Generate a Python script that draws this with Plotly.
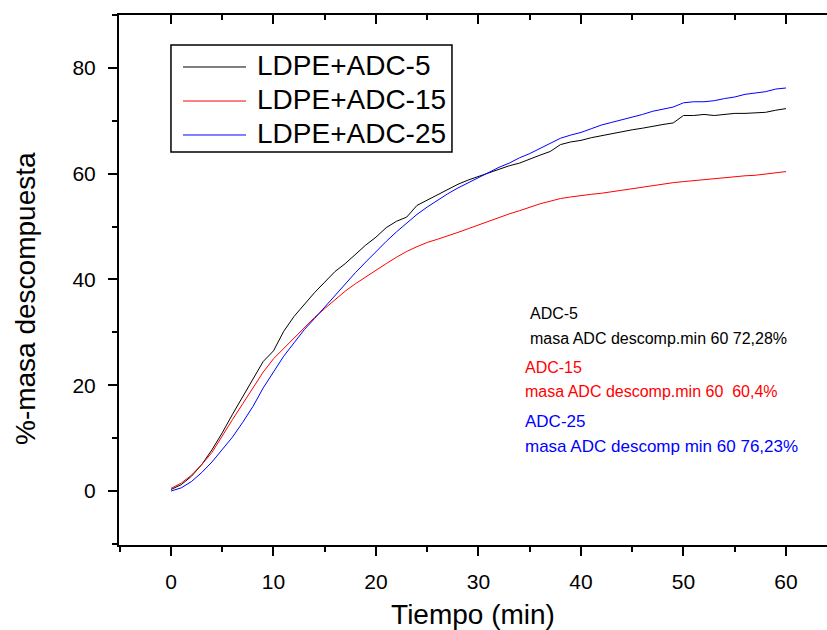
import plotly.graph_objects as go

time_min = list(range(0, 61))

adc5 = [0.3, 1.2, 2.8, 5.0, 7.8, 11.0, 14.5, 17.8, 21.0, 24.5,
        26.5, 30.2, 33.0, 35.3, 37.5, 39.5, 41.5, 43.0, 44.8, 46.5,
        48.0, 49.8, 51.0, 51.8, 54.0, 55.0, 56.0, 57.0, 58.0, 58.8,
        59.5, 60.2, 60.8, 61.5, 62.0, 62.8, 63.5, 64.2, 65.5, 66.0,
        66.3, 66.8, 67.2, 67.6, 68.0, 68.3, 68.6, 69.0, 69.3, 69.6,
        71.0, 71.0, 71.2, 71.0, 71.2, 71.4, 71.4, 71.5, 71.6, 72.0,
        72.3]

adc15 = [0.5, 1.5, 3.0, 5.0, 7.3, 10.5, 13.5, 16.5, 19.5, 22.5,
         25.0, 27.0, 29.0, 30.8, 32.8, 34.5, 36.2, 37.8, 39.2, 40.5,
         41.8, 43.0, 44.2, 45.3, 46.2, 47.0, 47.6, 48.2, 48.9, 49.6,
         50.3, 51.0, 51.8, 52.4, 53.0, 53.7, 54.3, 54.8, 55.3, 55.6,
         55.9, 56.1, 56.3, 56.6, 56.9, 57.2, 57.5, 57.8, 58.0, 58.3,
         58.5, 58.7, 58.9, 59.0, 59.2, 59.4, 59.6, 59.7, 59.9, 60.1,
         60.4]

adc25 = [0.0, 0.6, 1.8, 3.5, 5.5, 7.8, 10.2, 13.0, 16.0, 19.5,
         22.5, 25.5, 28.0, 30.5, 32.6, 34.8, 37.0, 39.2, 41.3, 43.3,
         45.3, 47.2, 49.0, 50.7, 52.3, 53.7, 55.0, 56.2, 57.3, 58.3,
         59.2, 60.2, 61.2, 62.0, 63.0, 63.8, 64.8, 65.8, 66.7, 67.3,
         67.8, 68.5, 69.2, 69.7, 70.2, 70.6, 71.2, 71.8, 72.2, 72.6,
         73.4, 73.6, 73.6, 73.8, 74.2, 74.5, 75.0, 75.2, 75.5, 76.0,
         76.2]

series_names = ["LDPE+ADC-5", "LDPE+ADC-15", "LDPE+ADC-25"]
series_colors = ["#000000", "#ff0000", "#0000ff"]

x_ticks = [0, 10, 20, 30, 40, 50, 60]
y_ticks = [0, 20, 40, 60, 80]

notes = [
    ("ADC-5", 34.8, 33.5, "#000000", 16),
    ("masa ADC descomp.min 60 72,28%", 34.8, 28.8, "#000000", 16),
    ("ADC-15", 34.3, 23.4, "#ff0000", 16),
    ("masa ADC descomp.min 60  60,4%", 34.3, 18.8, "#ff0000", 16),
    ("ADC-25", 34.3, 13.1, "#0000ff", 17),
    ("masa ADC descomp min 60 76,23%", 34.3, 8.4, "#0000ff", 17),
]

FONT = "Arial, Liberation Sans, sans-serif"
XR = [-5.07, 64.0]
YR = [-10.2, 90.0]

fig = go.Figure()
for name, ys, col in zip(series_names, [adc5, adc15, adc25], series_colors):
    fig.add_trace(go.Scatter(x=time_min, y=ys, mode="lines", name=name,
                             line=dict(color=col, width=1), showlegend=False))

# helper trace for the mirrored top axis
fig.add_trace(go.Scatter(x=[None], y=[None], xaxis="x2", yaxis="y",
                         showlegend=False, hoverinfo="skip"))

for text, xv, yv, col, fs in notes:
    fig.add_annotation(x=xv, y=yv, text=text, showarrow=False, xanchor="left",
                       yanchor="middle", font=dict(family=FONT, size=fs, color=col))

# legend box (Origin style: long line samples)
fig.add_shape(type="rect", xref="paper", yref="paper", x0=0.0734, x1=0.4703,
              y0=0.7415, y1=0.9434, line=dict(color="black", width=1.5),
              fillcolor="white", layer="above")
leg_rows = [0.9019, 0.8377, 0.7736]
for name, col, yy in zip(series_names, series_colors, leg_rows):
    fig.add_shape(type="line", xref="paper", yref="paper", x0=0.0904, x1=0.1794,
                  y0=yy, y1=yy, line=dict(color=col, width=1), layer="above")
    fig.add_annotation(xref="paper", yref="paper", x=0.1921, y=yy + 0.002, text=name,
                       showarrow=False, xanchor="left", yanchor="middle",
                       font=dict(family=FONT, size=28, color="black"))

# y axis title
fig.add_annotation(xref="paper", yref="paper", x=-0.1328, y=0.466,
                   text="%-masa descompuesta", textangle=-90, showarrow=False,
                   xanchor="center", yanchor="middle",
                   font=dict(family=FONT, size=28, color="black"))

fig.update_layout(
    width=827, height=630,
    margin=dict(l=119, r=0, t=15, b=85),
    paper_bgcolor="white", plot_bgcolor="white",
    font=dict(family=FONT, color="black"),
    showlegend=False,
    xaxis=dict(range=XR, tickvals=x_ticks, ticks="outside", ticklen=9, tickwidth=2,
               tickcolor="black", showline=True, linecolor="black", linewidth=2,
               showgrid=False, zeroline=False, tickfont=dict(size=21, family=FONT),
               ticklabelstandoff=8,
               minor=dict(dtick=5, tick0=0, ticks="outside", ticklen=5, tickwidth=2,
                          tickcolor="black", showgrid=False),
               title=dict(text="Tiempo (min)", font=dict(size=28, family=FONT), standoff=14)),
    xaxis2=dict(range=XR, overlaying="x", side="top", tickvals=x_ticks, ticks="inside",
                ticklen=9, tickwidth=2, tickcolor="black", showline=True,
                linecolor="black", linewidth=2, showticklabels=False, showgrid=False,
                zeroline=False,
                minor=dict(dtick=5, tick0=0, ticks="inside", ticklen=5, tickwidth=2,
                           tickcolor="black", showgrid=False)),
    yaxis=dict(range=YR, tickvals=y_ticks, ticks="outside", ticklen=9, tickwidth=2,
               tickcolor="black", showline=True, linecolor="black", linewidth=2,
               showgrid=False, zeroline=False, tickfont=dict(size=21, family=FONT),
               ticklabelstandoff=8,
               minor=dict(dtick=10, tick0=0, ticks="outside", ticklen=5, tickwidth=2,
                          tickcolor="black", showgrid=False)),
)

fig.write_html("out.html")
